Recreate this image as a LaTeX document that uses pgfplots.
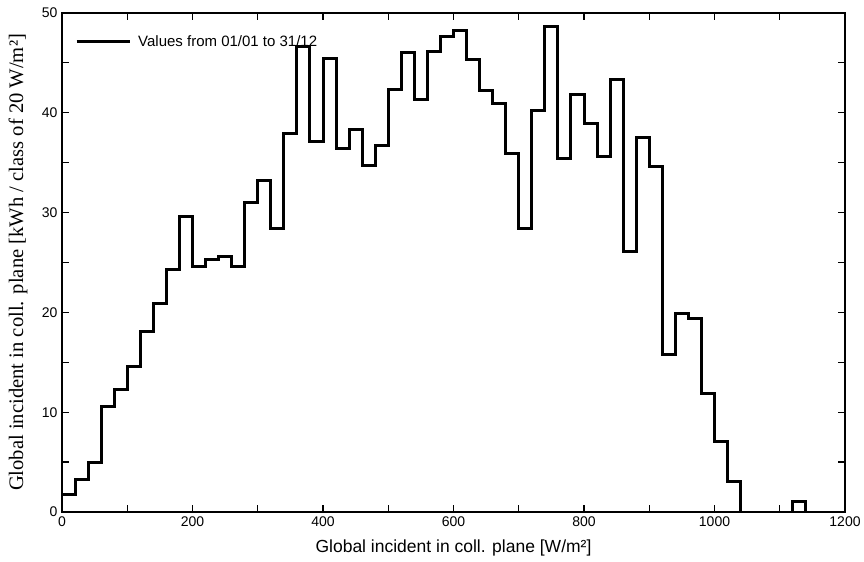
\documentclass[border=0pt]{standalone}
\usepackage{fontspec}
\setmainfont{Liberation Sans}
\newfontfamily\seriffont{Liberation Serif}
\usepackage{pgfplots}
\pgfplotsset{compat=1.18}
\begin{document}
\begin{tikzpicture}
\begin{axis}[name=ax, scale only axis, width=783pt, height=499pt,
  xmin=0, xmax=1200, ymin=0, ymax=50,
  xtick={0,200,...,1200}, minor xtick={100,300,...,1100},
  ytick={0,10,...,50}, minor ytick={5,15,...,45},
  tick pos=both, tick align=inside,
  major tick length=7pt, minor tick length=7pt,
  every tick/.style={black, line width=1.2pt},
  axis line style={line width=2pt},
  /pgf/number format/assume math mode=true,
  /pgf/number format/1000 sep={},
  ticklabel style={font=\fontsize{14}{16}\selectfont},
  xticklabel style={yshift=-1pt},
  yticklabel style={xshift=-1pt},
  xlabel={Global incident in coll. plane [W/m²]},
  xlabel style={at={(axis description cs:0.5,-0.0721)}, anchor=center, font=\fontsize{17.5}{20}\selectfont},
  ylabel={Global incident in coll. plane [kWh / class of 20 W/m²]},
  ylabel style={at={(axis description cs:-0.0562,0.5)}, anchor=center, font=\seriffont\fontsize{20.6}{24}\selectfont},
  legend style={at={(rel axis cs:0.0166,0.942)}, anchor=west, draw=none, fill=none, inner sep=0pt,
    font=\fontsize{15}{18}\selectfont},
  legend cell align=left,
  legend image code/.code={\draw[line width=3pt, black] (0pt,0pt) -- (53pt,0pt); \path (58pt,0pt);},
]
\addplot[const plot, line width=3pt, black] coordinates {
(0,1.76) (20,3.3) (40,5.0) (60,10.6) (80,12.3) (100,14.6) (120,18.1) (140,20.9)
(160,24.3) (180,29.6) (200,24.6) (220,25.3) (240,25.6) (260,24.6) (280,31.0) (300,33.2)
(320,28.4) (340,37.9) (360,46.6) (380,37.1) (400,45.4) (420,36.4) (440,38.3) (460,34.7)
(480,36.7) (500,42.3) (520,46.0) (540,41.3) (560,46.1) (580,47.6) (600,48.2) (620,45.3)
(640,42.2) (660,40.9) (680,35.9) (700,28.4) (720,40.2) (740,48.6) (760,35.4) (780,41.8)
(800,38.9) (820,35.6) (840,43.3) (860,26.1) (880,37.5) (900,34.6) (920,15.8) (940,19.9)
(960,19.4) (980,11.9) (1000,7.1) (1020,3.1) (1040,0)
};
\addlegendentry{Values from 01/01 to 31/12}
\addplot[line width=3pt, black, forget plot] coordinates {
(1120,0) (1120,1.1) (1140,1.1) (1140,0)
};
\end{axis}
\pgfresetboundingbox
\path ([shift={(-62pt,-50pt)}]ax.south west) rectangle ([shift={(19pt,13pt)}]ax.north east);
\end{tikzpicture}
\end{document}
